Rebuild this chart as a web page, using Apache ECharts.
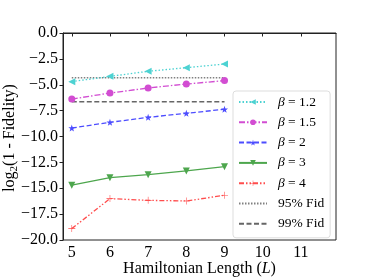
<!DOCTYPE html>
<html><head><meta charset="utf-8">
<script src="https://cdn.jsdelivr.net/npm/echarts@6/dist/echarts.min.js"></script>
<style>html,body{margin:0;padding:0;background:#fff}#c{width:374px;height:280px}</style>
</head><body><div id="c"></div>
<script>
const lengths = [5, 6, 7, 8, 9];
const xTicks = [5, 6, 7, 8, 9, 10, 11];
const yTicks = [-20, -17.5, -15, -12.5, -10, -7.5, -5, -2.5, 0];
const beta12 = [-4.70, -4.19, -3.70, -3.35, -3.00];
const beta15 = [-6.38, -5.80, -5.31, -4.93, -4.60];
const beta2 = [-9.18, -8.63, -8.15, -7.76, -7.37];
const beta3 = [-14.70, -13.98, -13.69, -13.33, -12.92];
const beta4 = [-18.90, -16.00, -16.17, -16.23, -15.68];
const fid95 = Math.log2(0.05);
const fid99 = Math.log2(0.01);
const names = ['β = 1.2', 'β = 1.5', 'β = 2', 'β = 3', 'β = 4', '95% Fid', '99% Fid'];
const yTitle = '{a|log}{s|2}{a|(1 - Fidelity)}';

const FONT = 'Liberation Serif';
const FS = 16;
const pts = arr => lengths.map((x, i) => [x, arr[i]]);
const star = 'path://M0,-10L2.35,-3.24L9.51,-3.09L3.80,1.24L5.88,8.09L0,4L-5.88,8.09L-3.80,1.24L-9.51,-3.09L-2.35,-3.24Z';
const plus = 'path://M-0.8,-10H0.8V-0.8H10V0.8H0.8V10H-0.8V0.8H-10V-0.8H-0.8Z';
function mk(name, data, color, type, symbol, size, rot) {
  return {
    name, type: 'line', data: pts(data), symbol, symbolSize: size, symbolRotate: rot || 0,
    lineStyle: { color, width: 1.3, type },
    itemStyle: { color },
    showSymbol: true, animation: false, z: 3
  };
}
const chart = echarts.init(document.getElementById('c'));
chart.setOption({
  animation: false,
  grid: { left: 63, right: 38, top: 33, bottom: 40, show: true, borderColor: '#222', borderWidth: 1,
    backgroundColor: 'transparent', containLabel: false, outerBoundsMode: 'none' },
  graphic: [{
    type: 'text', x: 10, y: 138, rotation: Math.PI / 2,
    style: { text: yTitle, align: 'center', verticalAlign: 'middle',
      rich: { a: { fontFamily: FONT, fontSize: FS, fill: '#000', color: '#000' }, s: { fontFamily: FONT, fontSize: 11, fill: '#000', color: '#000', padding: [8, 0, 0, 0] } } }
  }],
  xAxis: {
    type: 'value', min: 4.77, max: 11.92,
    name: 'Hamiltonian Length ({i|L})', nameLocation: 'middle', nameGap: 21, nameMoveOverlap: false,
    nameTextStyle: { fontFamily: FONT, fontSize: FS, color: '#000', rich: { i: { fontFamily: FONT, fontStyle: 'italic', fontSize: FS } } },
    axisLine: { show: true, lineStyle: { color: '#222' } },
    axisTick: { show: true, customValues: xTicks, length: 3.5, lineStyle: { color: '#222' } },
    axisLabel: { customValues: xTicks, fontFamily: FONT, fontSize: FS, color: '#000', margin: 5 },
    splitLine: { show: false }
  },
  yAxis: {
    type: 'value', min: -20, max: 0,
    axisLine: { show: true, lineStyle: { color: '#222' } },
    axisTick: { show: true, customValues: yTicks, length: 3.5, lineStyle: { color: '#222' } },
    axisLabel: { customValues: yTicks, fontFamily: FONT, fontSize: FS, color: '#000', margin: 5,
      formatter: v => v.toFixed(1).replace('-', '\u2212') },
    splitLine: { show: false }
  },
  legend: {
    orient: 'vertical', left: 233, top: 91,
    data: names.map((n, i) => i < 5 ? { name: n } : { name: n, itemStyle: { color: 'rgba(0,0,0,0)', borderColor: 'rgba(0,0,0,0)', borderWidth: 0 } }),
    backgroundColor: '#fff', borderColor: '#ddd', borderWidth: 1, borderRadius: 3,
    padding: [4, 6, 7, 5], itemWidth: 28, itemHeight: 7, itemGap: 6.3,
    textStyle: { fontFamily: FONT, fontSize: 13.5, color: '#000', padding: [0, 0, 0, 6],
      rich: { b: { fontFamily: FONT, fontStyle: 'italic', fontSize: 13.5 }, n: { fontFamily: FONT, fontSize: 13.5 } } },
    formatter: n => n.startsWith('β') ? '{b|β}{n|' + n.slice(1) + '}' : n
  },
  series: [
    mk(names[0], beta12, '#4dd2d2', [1.5, 2], 'triangle', 7, 90),
    mk(names[1], beta15, '#d24dd2', [6, 2, 1.5, 2], 'circle', 7),
    mk(names[2], beta2, '#4d4dff', [5, 2.5], star, 7),
    mk(names[3], beta3, '#4da64d', 'solid', 'triangle', 7, 180),
    mk(names[4], beta4, '#ff4d4d', [5, 2, 1.5, 2, 1.5, 2], plus, 7),
    { name: names[5], type: 'line', data: [[5, fid95], [9, fid95]], symbol: 'none',
      lineStyle: { color: '#808080', width: 1.3, type: [1.5, 1.5] }, itemStyle: { color: '#808080' }, z: 2 },
    { name: names[6], type: 'line', data: [[5, fid99], [9, fid99]], symbol: 'none',
      lineStyle: { color: '#666', width: 1.3, type: [5, 2.5] }, itemStyle: { color: '#666' }, z: 2 }
  ]
});
</script></body></html>
